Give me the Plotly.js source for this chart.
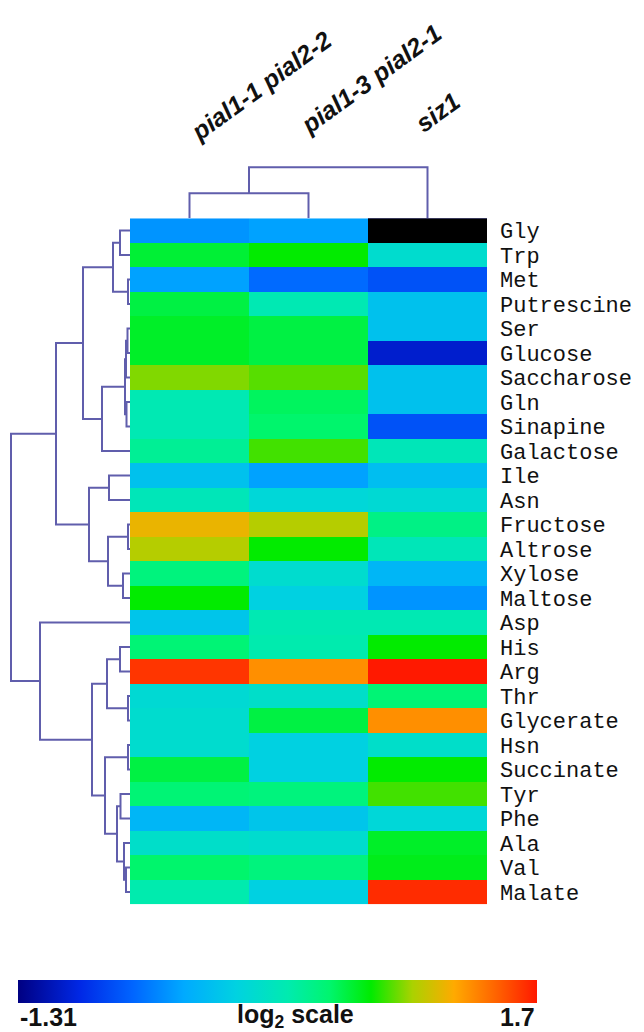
<!DOCTYPE html>
<html>
<head>
<meta charset="utf-8">
<script src="https://cdn.plot.ly/plotly-3.0.1.min.js"></script>
<style>html,body{margin:0;padding:0;background:#fff;}#chart{width:644px;height:1032px;}</style>
</head>
<body>
<div id="chart"></div>
<script>
// ---------- DATA ----------
const columns = ["pial1-1 pial2-2", "pial1-3 pial2-1", "siz1"];
const rows = ["Gly","Trp","Met","Putrescine","Ser","Glucose","Saccharose","Gln","Sinapine","Galactose",
  "Ile","Asn","Fructose","Altrose","Xylose","Maltose","Asp","His","Arg","Thr",
  "Glycerate","Hsn","Succinate","Tyr","Phe","Ala","Val","Malate"];
// log2 values, one array per column (value below the scale minimum drawn black)
const col1 = [-0.44,0.62,-0.38,0.59,0.65,0.65,0.92,0.23,0.23,0.35,
  -0.17,0.20,1.16,1.01,0.44,0.74,-0.14,0.47,1.61,0.04,
  0.07,0.07,0.59,0.47,-0.26,0.10,0.50,0.26];
const col2 = [-0.38,0.74,-0.62,0.23,0.59,0.59,0.86,0.53,0.50,0.83,
  -0.38,0.01,1.01,0.74,0.07,-0.05,0.23,0.26,1.31,0.10,
  0.59,-0.05,-0.05,0.44,-0.14,0.07,0.44,-0.05];
const col3 = [-1.60,0.07,-0.74,-0.17,-0.17,-1.04,-0.17,-0.17,-0.74,0.20,
  -0.20,0.04,0.41,0.20,-0.26,-0.44,0.23,0.74,1.70,0.47,
  1.31,0.10,0.74,0.83,0.01,0.65,0.68,1.64];
const scaleMin = -1.31, scaleMax = 1.7;
const scaleLabels = ["-1.31", "log<sub>2</sub> scale", "1.7"];
// row dendrogram merges (scipy style: index < n is a leaf, otherwise merge index + n)
const rowMergeA = [0,2,28,4,31,7,32,34,30,10,12,14,38,37,36,17,19,43,21,23,26,25,47,46,45,16,42];
const rowMergeB = [1,3,29,5,6,8,33,9,35,11,13,15,39,40,41,18,20,44,22,24,27,48,49,50,51,52,53];
const rowMergeH = [10,2,17,2.5,4,3.5,5,28,47,21,2,7,22,41,74,10,2,23,2,9.5,4,6,13,25,38,90,119];
// column dendrogram merges
const colMergeA = [0,3];
const colMergeB = [1,2];
const colMergeH = [25,51];

// ---------- style / placement (not data) ----------
const colLabelShiftX = [-7, -16, -20];
const colLabelBottomPx = [149, 142, 140];

// ---------- helpers ----------
function dendroLines(n, A, B, H, horizontal) {
  const pos = [], hgt = [];
  for (let i = 0; i < n; i++) { pos.push(i); hgt.push(0); }
  const xs = [], ys = [];
  for (let k = 0; k < A.length; k++) {
    const a = A[k], b = B[k], h = H[k];
    const pa = pos[a], pb = pos[b], ha = hgt[a], hb = hgt[b];
    const seg = [[ha,pa],[h,pa],[h,pb],[hb,pb]];
    seg.forEach(p => {
      if (horizontal) { xs.push(p[0]); ys.push(p[1]); } else { xs.push(p[1]); ys.push(p[0]); }
    });
    xs.push(null); ys.push(null);
    pos.push((pa + pb) / 2); hgt.push(h);
  }
  return {x: xs, y: ys};
}

const z = rows.map((r, i) => [col1[i], col2[i], col3[i]]);
const zLow = z.map(r => r.map(v => v < scaleMin ? 1 : null));
const xIdx = columns.map((c, i) => i);
const yIdx = rows.map((r, i) => i);

const colorscale = [
  [0.00, 'rgb(0,0,130)'],
  [0.12, 'rgb(0,40,230)'],
  [0.22, 'rgb(0,100,255)'],
  [0.32, 'rgb(0,170,255)'],
  [0.42, 'rgb(0,210,225)'],
  [0.52, 'rgb(0,235,175)'],
  [0.60, 'rgb(0,245,110)'],
  [0.68, 'rgb(0,235,0)'],
  [0.76, 'rgb(170,210,0)'],
  [0.84, 'rgb(255,170,0)'],
  [0.92, 'rgb(255,100,0)'],
  [1.00, 'rgb(255,25,0)']
];

const W = 644, Hh = 1032;
const px = v => v / W;
const py = v => 1 - v / Hh;

const rowD = dendroLines(rows.length, rowMergeA, rowMergeB, rowMergeH, true);
const colD = dendroLines(columns.length, colMergeA, colMergeB, colMergeH, false);
const lineStyle = {color: 'rgb(96,94,172)', width: 2};

const traces = [
  {type: 'heatmap', x: xIdx, y: yIdx, z: z, zmin: scaleMin, zmax: scaleMax,
   colorscale: colorscale, xaxis: 'x', yaxis: 'y', hoverinfo: 'skip',
   colorbar: {orientation: 'h', thickness: 23, len: 519, lenmode: 'pixels',
     x: px(278), xanchor: 'center', y: py(980), yanchor: 'top',
     xpad: 0, ypad: 0, outlinewidth: 0, showticklabels: false, ticks: ''}},
  {type: 'heatmap', x: xIdx, y: yIdx, z: zLow, zmin: 0, zmax: 1,
   colorscale: [[0,'#000'],[1,'#000']], showscale: false, xaxis: 'x', yaxis: 'y', hoverinfo: 'skip'},
  {type: 'scatter', mode: 'lines', x: rowD.x, y: rowD.y, xaxis: 'x2', yaxis: 'y',
   line: lineStyle, hoverinfo: 'skip', showlegend: false},
  {type: 'scatter', mode: 'lines', x: colD.x, y: colD.y, xaxis: 'x', yaxis: 'y3',
   line: lineStyle, hoverinfo: 'skip', showlegend: false}
];

const labelFont = {family: 'Liberation Sans, Arial, sans-serif', size: 25, color: '#111', weight: 'bold'};
const annotations = columns.map((c, i) => ({
  text: c, x: i, xref: 'x', y: py(colLabelBottomPx[i]), yref: 'paper', xanchor: 'left', yanchor: 'bottom',
  textangle: -36, showarrow: false, xshift: colLabelShiftX[i],
  font: {family: 'Liberation Sans, Arial, sans-serif', size: 25, color: '#111', weight: 'bold', style: 'italic'}
}));
annotations.push({text: scaleLabels[0], x: px(18), y: py(1017), xref: 'paper', yref: 'paper',
  xanchor: 'left', yanchor: 'middle', showarrow: false, font: labelFont});
annotations.push({text: scaleLabels[1], x: px(295), y: py(1016), xref: 'paper', yref: 'paper',
  xanchor: 'center', yanchor: 'middle', showarrow: false, font: labelFont});
annotations.push({text: scaleLabels[2], x: px(537), y: py(1017), xref: 'paper', yref: 'paper',
  xanchor: 'right', yanchor: 'middle', showarrow: false, font: labelFont});

const hidden = {showgrid: false, zeroline: false, showline: false, showticklabels: false, ticks: ''};
const layout = {
  width: W, height: Hh, margin: {l: 0, r: 0, t: 0, b: 0},
  paper_bgcolor: '#fff', plot_bgcolor: 'rgba(0,0,0,0)', showlegend: false,
  xaxis: Object.assign({}, hidden, {domain: [px(130), px(487)], range: [-0.5, 2.5], anchor: 'y'}),
  yaxis: {domain: [py(904.3), py(218.3)], range: [27.5, -0.5], side: 'right', anchor: 'x',
    tickvals: yIdx, ticktext: rows, showgrid: false, zeroline: false, showline: false, ticks: '',
    ticklabelstandoff: 12,
    tickfont: {family: 'Liberation Mono, Courier New, monospace', size: 22, color: '#111'}},
  xaxis2: Object.assign({}, hidden, {domain: [0, px(130)], range: [130, 0], anchor: 'y'}),
  yaxis3: Object.assign({}, hidden, {domain: [py(218.3), py(150)], range: [0, 68.3], anchor: 'x'}),
  annotations: annotations
};

Plotly.newPlot('chart', traces, layout, {displayModeBar: false, staticPlot: true});
</script>
</body>
</html>
